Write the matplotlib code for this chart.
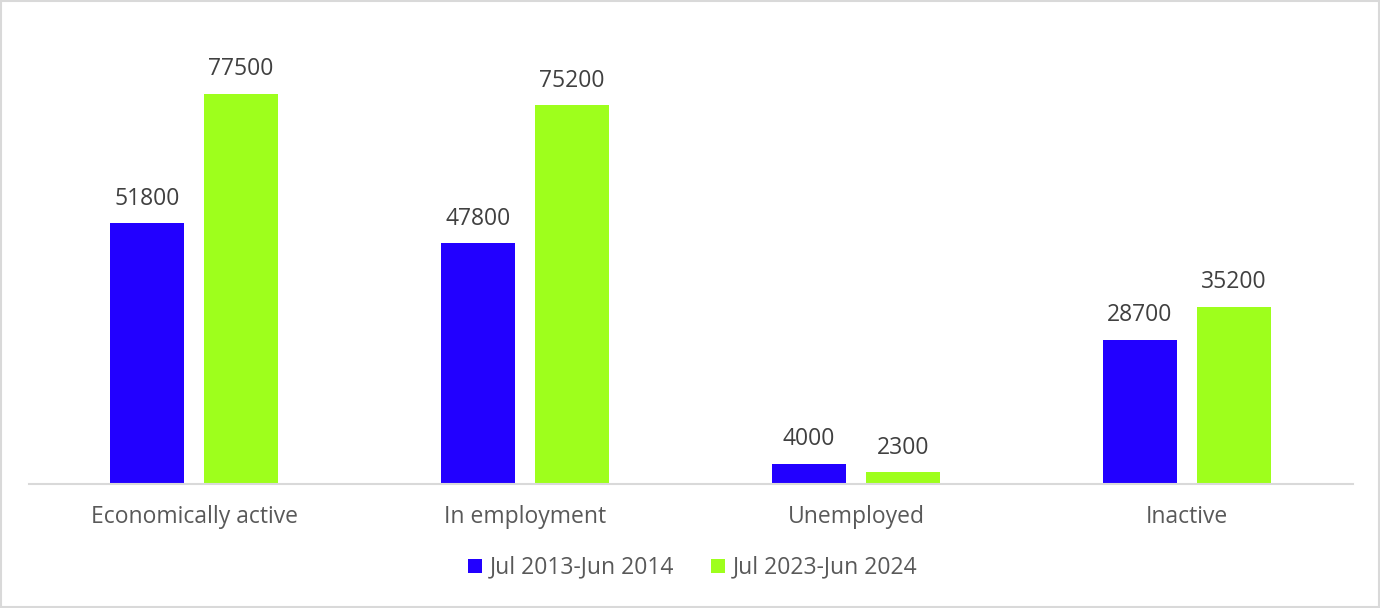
import numpy as np
import matplotlib.pyplot as plt
from matplotlib.patches import Rectangle

# Data
categories = ["Economically active", "In employment", "Unemployed", "Inactive"]
series_names = ["Jul 2013-Jun 2014", "Jul 2023-Jun 2024"]
values_2014 = [51800, 47800, 4000, 28700]
values_2024 = [77500, 75200, 2300, 35200]

colors = ["#2200FF", "#9EFF1C"]
text_color = "#595959"
fs = 16.5

plt.rcParams['font.family'] = ['Open Sans', 'DejaVu Sans']

fig = plt.figure(figsize=(13.8, 6.08), dpi=100)
ax = fig.add_axes([0.0207, 0.204, 0.9594, 0.745])

x = np.arange(len(categories))
width = 0.224
offset = 0.142

for vals, name, col, sign in [(values_2014, series_names[0], colors[0], -1),
                              (values_2024, series_names[1], colors[1], 1)]:
    bars = ax.bar(x + sign * offset, vals, width, color=col, label=name)
    ax.bar_label(bars, padding=9, fontsize=fs, color="#404040")

ax.set_xlim(-0.5, len(categories) - 0.5)
ax.set_ylim(0, 90000)
ax.set_xticks(x)
ax.set_xticklabels(categories, fontsize=fs, color=text_color)
ax.tick_params(axis='x', length=0, pad=15)
ax.set_yticks([])
for s in ['top', 'right', 'left']:
    ax.spines[s].set_visible(False)
ax.spines['bottom'].set_color("#D9D9D9")
ax.spines['bottom'].set_linewidth(1.5)

leg = fig.legend(loc='center', bbox_to_anchor=(0.502, 0.066), ncol=2, frameon=False,
                 fontsize=fs, handlelength=0.6, handleheight=0.6, columnspacing=1.6,
                 handletextpad=0.35)
for t in leg.get_texts():
    t.set_color(text_color)

# light border around the chart
fig.patches.append(Rectangle((0.001, 0.002), 0.998, 0.996, transform=fig.transFigure,
                             fill=False, edgecolor="#D9D9D9", linewidth=1.5))

fig.savefig("out.png", dpi=100)
